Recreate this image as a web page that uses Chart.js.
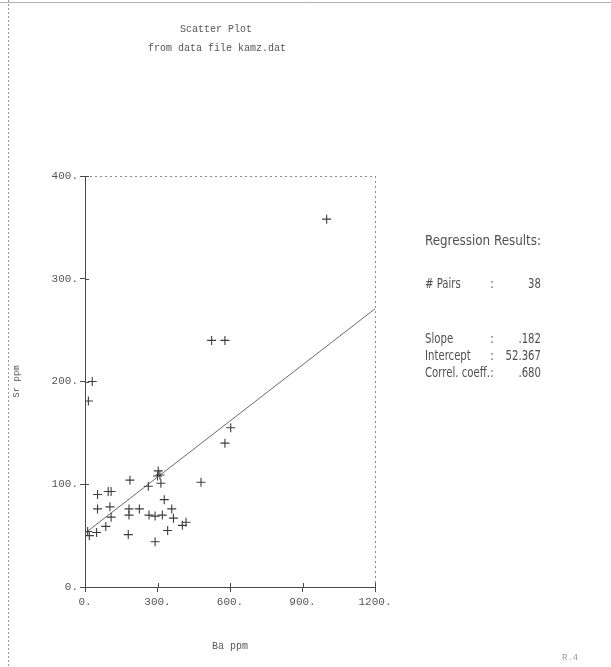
<!DOCTYPE html>
<html>
<head>
<meta charset="utf-8">
<script src="https://cdn.jsdelivr.net/npm/chart.js@4.4.1/dist/chart.umd.min.js"></script>
<style>
html,body{margin:0;padding:0;background:#fff;}
#wrap{width:611px;height:667px;position:relative;}
</style>
</head>
<body>
<div id="wrap"><canvas id="c" width="611" height="667"></canvas></div>
<script>
// ---- data ----
const baPpm = [11, 18, 48, 52, 52, 96, 108, 103, 108, 86, 30, 14,
  186, 182, 182, 179, 225, 262, 265, 290, 290, 303, 310, 300, 314, 320,
  328, 342, 359, 366, 403, 418, 480, 579, 603, 524, 579, 1000];
const srPpm = [54, 50, 53, 90, 76, 93, 93, 78, 68, 59, 200, 181,
  104, 70, 76, 51, 76, 98, 70, 69, 44, 113, 109, 108, 101, 70,
  85, 55, 76, 67, 60, 63, 102, 140, 155, 240, 240, 358];
const xTicks = [0, 300, 600, 900, 1200];
const yTicks = [0, 100, 200, 300, 400];
const titleLines = ['Scatter Plot', 'from data file kamz.dat'];
const xTitle = 'Ba ppm';
const yTitle = 'Sr ppm';
const resultsTitle = 'Regression Results:';
const resultLabels = ['# Pairs', 'Slope', 'Intercept', 'Correl. coeff.'];
const resultValues = ['38', '.182', '52.367', '.680'];
const slope = 0.182;
const intercept = 52.367;

const points = baPpm.map((x, i) => ({x: x, y: srPpm[i]}));
const xMin = xTicks[0], xMax = xTicks[xTicks.length - 1];
const regLine = [{x: xMin, y: intercept + slope * xMin}, {x: xMax, y: intercept + slope * xMax}];

const INK = '#4a4a4a';
const MONO = "'Liberation Mono', 'DejaVu Sans Mono', monospace";
const NARROW = "'Liberation Sans Narrow', 'DejaVu Sans Condensed', 'Liberation Sans', sans-serif";

const decor = {
  id: 'decor',
  beforeDraw(chart) {
    const ctx = chart.ctx;
    ctx.save();
    ctx.fillStyle = '#fff';
    ctx.fillRect(0, 0, chart.width, chart.height);
    ctx.strokeStyle = '#9a9a9a';
    ctx.lineWidth = 1;
    ctx.setLineDash([2, 2]);
    ctx.beginPath();
    ctx.moveTo(8.5, 0); ctx.lineTo(8.5, chart.height);
    ctx.stroke();
    ctx.setLineDash([]);
    ctx.strokeStyle = '#b0b0b0';
    ctx.beginPath();
    ctx.moveTo(0, 2.5); ctx.lineTo(chart.width, 2.5);
    ctx.stroke();
    ctx.restore();
  },
  afterDraw(chart) {
    const ctx = chart.ctx;
    const a = chart.chartArea;
    const xs = chart.scales.x, ys = chart.scales.y;
    ctx.save();
    ctx.strokeStyle = '#8a8a8a';
    ctx.lineWidth = 1;
    ctx.setLineDash([2, 3]);
    ctx.beginPath();
    ctx.moveTo(a.left, a.top + 0.5); ctx.lineTo(a.right, a.top + 0.5);
    ctx.moveTo(a.right + 0.5, a.top); ctx.lineTo(a.right + 0.5, a.bottom);
    ctx.stroke();
    ctx.setLineDash([]);
    ctx.strokeStyle = INK;
    ctx.beginPath();
    yTicks.forEach(v => { const p = Math.round(ys.getPixelForValue(v)) + 0.5; ctx.moveTo(a.left, p); ctx.lineTo(a.left + 4, p); });
    xTicks.forEach(v => { const p = Math.round(xs.getPixelForValue(v)) + 0.5; ctx.moveTo(p, a.bottom); ctx.lineTo(p, a.bottom - 4); });
    ctx.stroke();
    // titles
    ctx.fillStyle = '#555';
    ctx.textAlign = 'center';
    ctx.textBaseline = 'middle';
    ctx.font = '10px ' + MONO;
    ctx.fillText(titleLines[0], 216, 29);
    ctx.fillText(titleLines[1], 217, 48);
    // regression results panel
    ctx.font = '14px ' + NARROW;
    const sx = 116 / ctx.measureText(resultsTitle).width;
    const sxRow = sx * 0.85;
    const drawNarrow = (txt, x, y, align, s) => {
      ctx.save();
      ctx.translate(x, y);
      ctx.scale(s, 1);
      ctx.textAlign = align;
      ctx.fillText(txt, 0, 0);
      ctx.restore();
    };
    ctx.fillStyle = '#505050';
    const left = 425, right = 541;
    drawNarrow(resultsTitle, left, 241, 'left', sx);
    const colonX = left + sxRow * ctx.measureText(resultLabels[3]).width + 2;
    const rowsY = [284, 339, 356, 373];
    resultLabels.forEach((l, i) => {
      drawNarrow(l, left, rowsY[i], 'left', sxRow);
      drawNarrow(':', colonX, rowsY[i], 'center', sxRow);
      drawNarrow(resultValues[i], right, rowsY[i], 'right', sxRow);
    });
    ctx.fillStyle = '#999';
    ctx.font = '9px ' + MONO;
    ctx.textAlign = 'left';
    ctx.fillText('R.4', 562, 658);
    ctx.restore();
  }
};

new Chart(document.getElementById('c'), {
  data: {
    datasets: [
      {
        type: 'scatter',
        data: points,
        pointStyle: 'cross',
        pointRadius: 4.5,
        pointBorderWidth: 1.1,
        borderColor: '#3c3c3c',
        backgroundColor: '#3c3c3c',
        order: 1
      },
      {
        type: 'line',
        data: regLine,
        borderColor: '#6a6a6a',
        borderWidth: 1,
        pointRadius: 0,
        fill: false,
        order: 2
      }
    ]
  },
  options: {
    responsive: false,
    animation: false,
    devicePixelRatio: 1,
    layout: { padding: { top: 176, right: 236, left: 0, bottom: 0 } },
    plugins: {
      legend: { display: false },
      tooltip: { enabled: false },
      title: { display: false }
    },
    scales: {
      x: {
        type: 'linear',
        min: xMin, max: xMax,
        afterFit(s) { s.height = 80; },
        afterBuildTicks(s) { s.ticks = xTicks.map(v => ({value: v})); },
        ticks: {
          callback: v => v + '.',
          color: '#555',
          font: { family: MONO, size: 11 },
          padding: 3,
          maxRotation: 0
        },
        grid: { display: true, drawOnChartArea: false, drawTicks: true, tickLength: 5, color: INK },
        border: { display: true, color: INK, width: 1 },
        title: { display: true, text: xTitle, color: '#555', font: { family: MONO, size: 10 }, padding: { top: 0, bottom: 15 } }
      },
      y: {
        type: 'linear',
        min: yTicks[0], max: yTicks[yTicks.length - 1],
        afterFit(s) { s.width = 85; },
        afterBuildTicks(s) { s.ticks = yTicks.map(v => ({value: v})); },
        ticks: {
          callback: v => v + '.',
          color: '#555',
          font: { family: MONO, size: 11 },
          padding: 2
        },
        grid: { display: true, drawOnChartArea: false, drawTicks: true, tickLength: 5, color: INK },
        border: { display: true, color: INK, width: 1 },
        title: { display: true, text: yTitle, color: '#555', font: { family: MONO, size: 9 }, padding: { top: 11, bottom: 0 } }
      }
    }
  },
  plugins: [decor]
});
</script>
</body>
</html>
